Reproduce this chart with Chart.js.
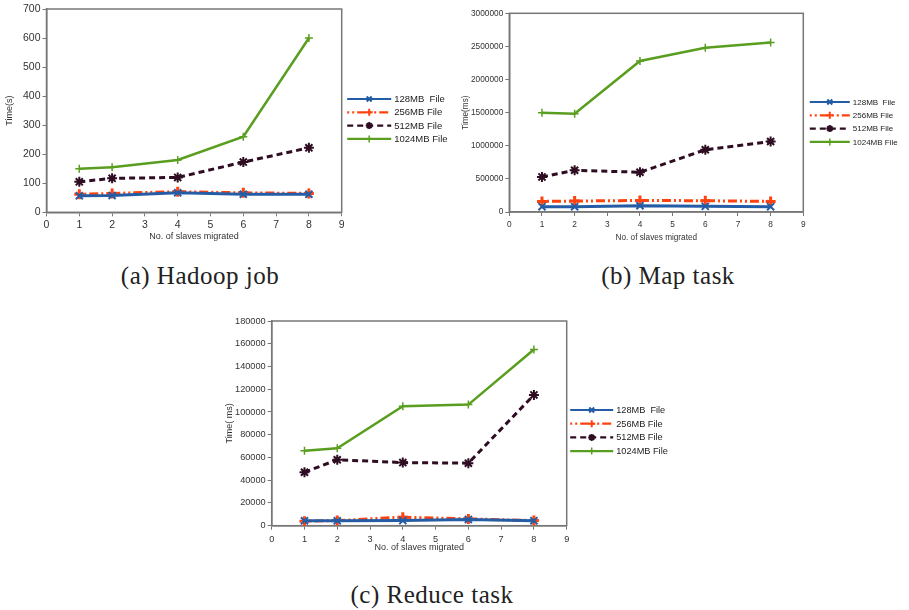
<!DOCTYPE html>
<html>
<head>
<meta charset="utf-8">
<script src="https://cdn.jsdelivr.net/npm/chart.js@4.4.0/dist/chart.umd.min.js"></script>
<style>
  body { margin: 0; background: #fff; width: 909px; height: 610px; position: relative; overflow: hidden; }
  canvas { position: absolute; }
  .caption {
    position: absolute; transform: translate(-50%, -50%); white-space: nowrap;
    font-family: "Liberation Serif", serif; font-size: 25px; letter-spacing: 0.5px; color: #222;
  }
</style>
</head>
<body>
<canvas id="hadoopChart" width="460" height="250" style="left:0;top:0"></canvas>
<canvas id="mapChart" width="449" height="250" style="left:460px;top:0"></canvas>
<canvas id="reduceChart" width="460" height="250" style="left:220px;top:310px"></canvas>
<div class="caption" style="left:200px;top:276px">(a) Hadoop job</div>
<div class="caption" style="left:668px;top:276px">(b) Map task</div>
<div class="caption" style="left:432px;top:595px">(c) Reduce task</div>
<script>
// number of slaves migrated (x values)
const slaves = [1, 2, 4, 6, 8];
const seriesLabels = ["128MB  File", "256MB File", "512MB File", "1024MB File"];

// (a) Hadoop job, seconds
const hadoop128 = [57, 58, 67, 62, 62];
const hadoop256 = [62, 65, 71, 67, 65];
const hadoop512 = [105, 117, 120, 173, 222];
const hadoop1024 = [150, 155, 180, 260, 600];

// (b) Map task, ms
const map128 = [80000, 80000, 95000, 85000, 80000];
const map256 = [160000, 165000, 175000, 170000, 160000];
const map512 = [530000, 630000, 600000, 940000, 1065000];
const map1024 = [1500000, 1485000, 2280000, 2480000, 2560000];

// (c) Reduce task, ms
const reduce128 = [4300, 4300, 4500, 5500, 4400];
const reduce256 = [4000, 4500, 7500, 6000, 4500];
const reduce512 = [47000, 58000, 55500, 55000, 115000];
const reduce1024 = [66000, 68000, 105000, 106500, 155000];

const seriesStyles = [
    { color: "#245da5", dash: [], width: 3, point: "crossRot", radius: 5, pointWidth: 2 },
    { color: "#ff420e", dash: [2, 3, 2, 3, 9, 3], width: 3, point: "cross", radius: 5, pointWidth: 3 },
    { color: "#2e0d22", dash: [6, 4], width: 3, point: "star", radius: 5, pointWidth: 2 },
    { color: "#5a9e1f", dash: [], width: 2.5, point: "cross", radius: 4, pointWidth: 1.5 },
];

// small stroke-only marker for the legend
function legendMarker(ctx, style, x, y, r) {
    ctx.beginPath();
    if (style === "crossRot" || style === "star") {
        const d = r * Math.SQRT1_2;
        ctx.moveTo(x - d, y - d); ctx.lineTo(x + d, y + d);
        ctx.moveTo(x - d, y + d); ctx.lineTo(x + d, y - d);
    }
    if (style === "cross" || style === "star") {
        ctx.moveTo(x, y - r); ctx.lineTo(x, y + r);
        ctx.moveTo(x - r, y); ctx.lineTo(x + r, y);
    }
    ctx.stroke();
}

// grey box round the plot area
const framePlugin = {
    id: "frame",
    beforeDatasetsDraw(chart) {
        const { ctx, chartArea: a } = chart;
        ctx.save();
        ctx.strokeStyle = "#777";
        ctx.lineWidth = 1.5;
        ctx.strokeRect(a.left, a.top, a.right - a.left, a.bottom - a.top);
        ctx.restore();
    },
};

// legend to the right of the plot, line + marker like the original
const sideLegend = {
    id: "sideLegend",
    afterDraw(chart, args, opts) {
        const { ctx, chartArea } = chart;
        const x0 = chartArea.right + opts.gap;
        chart.data.datasets.forEach((ds, i) => {
            const y = opts.top + i * opts.step;
            ctx.save();
            ctx.strokeStyle = ds.borderColor;
            ctx.lineWidth = Math.min(ds.borderWidth, 2.2);
            ctx.setLineDash(ds.borderDash || []);
            ctx.beginPath();
            ctx.moveTo(x0, y);
            ctx.lineTo(x0 + opts.len, y);
            ctx.stroke();
            ctx.setLineDash([]);
            ctx.lineWidth = Math.min(ds.pointBorderWidth, 2);
            legendMarker(ctx, ds.pointStyle, x0 + opts.len / 2, y, 3.5);
            ctx.fillStyle = "#222";
            ctx.font = opts.font;
            ctx.textBaseline = "middle";
            ctx.fillText(ds.label, x0 + opts.len + 3, y + 0.5);
            ctx.restore();
        });
    },
};

function makeChart(id, series, cfg) {
    const ctx = document.getElementById(id).getContext("2d");
    return new Chart(ctx, {
        type: "line",
        data: {
            datasets: series.map((vals, i) => ({
                label: seriesLabels[i],
                data: slaves.map((x, j) => ({ x: x, y: vals[j] })),
                borderColor: seriesStyles[i].color,
                backgroundColor: seriesStyles[i].color,
                borderWidth: seriesStyles[i].width,
                borderDash: seriesStyles[i].dash,
                pointStyle: seriesStyles[i].point,
                pointRadius: seriesStyles[i].radius,
                pointBorderWidth: seriesStyles[i].pointWidth,
                tension: 0,
            })),
        },
        options: {
            responsive: false,
            animation: false,
            layout: { padding: { top: cfg.padTop, right: cfg.padRight, left: 0, bottom: 0 } },
            plugins: {
                legend: { display: false },
                tooltip: { enabled: false },
                sideLegend: cfg.legend,
            },
            scales: {
                x: {
                    type: "linear",
                    min: 0,
                    max: 9,
                    afterFit: (s) => { s.height = cfg.xHeight; },
                    grid: { drawOnChartArea: false, drawTicks: true, tickLength: 4, color: "#777" },
                    border: { color: "#777", width: 1.5 },
                    ticks: { stepSize: 1, maxRotation: 0, padding: cfg.xTickPad, color: "#333", font: { family: "Liberation Sans", size: cfg.tickSize } },
                    title: { display: true, text: "No. of slaves migrated", color: "#333", padding: { top: cfg.xTitlePad, bottom: cfg.xTitlePad }, font: { family: "Liberation Sans", size: cfg.titleSize } },
                },
                y: {
                    min: 0,
                    max: cfg.yMax,
                    afterFit: (s) => { s.width = cfg.yWidth; },
                    grid: { drawOnChartArea: false, drawTicks: true, tickLength: 4, color: "#777" },
                    border: { color: "#777", width: 1.5 },
                    ticks: { stepSize: cfg.yStep, padding: 2, color: "#333", callback: (v) => String(v), font: { family: "Liberation Sans", size: cfg.tickSize } },
                    title: { display: true, text: cfg.yTitle, color: "#333", padding: { top: cfg.yTitlePad, bottom: cfg.yTitlePad }, font: { family: "Liberation Sans", size: cfg.titleSize } },
                },
            },
        },
        plugins: [framePlugin, sideLegend],
    });
}

makeChart("hadoopChart", [hadoop128, hadoop256, hadoop512, hadoop1024], {
    padTop: 9, padRight: 118.3, yWidth: 46.5, xHeight: 37.7,
    yMax: 700, yStep: 100, yTitle: "Time(s)", yTitlePad: 4,
    tickSize: 10.5, titleSize: 9, xTickPad: 2.5, xTitlePad: 7.6,
    legend: { gap: 5.5, len: 44, top: 99, step: 13.3, font: "9.5px Liberation Sans" },
});

makeChart("mapChart", [map128, map256, map512, map1024], {
    padTop: 13.3, padRight: 105.7, yWidth: 49.3, xHeight: 38,
    yMax: 3000000, yStep: 500000, yTitle: "Time(ms)", yTitlePad: 1,
    tickSize: 8.3, titleSize: 8.2, xTickPad: 3.7, xTitlePad: 7.6,
    legend: { gap: 6.5, len: 40, top: 102, step: 13.3, font: "8px Liberation Sans" },
});

makeChart("reduceChart", [reduce128, reduce256, reduce512, reduce1024], {
    padTop: 11, padRight: 113.3, yWidth: 51.7, xHeight: 34.3,
    yMax: 180000, yStep: 20000, yTitle: "Time( ms)", yTitlePad: 4,
    tickSize: 9.2, titleSize: 9, xTickPad: 4.5, xTitlePad: 6.6,
    legend: { gap: 3.5, len: 43, top: 100, step: 13.7, font: "9.2px Liberation Sans" },
});
</script>
</body>
</html>
